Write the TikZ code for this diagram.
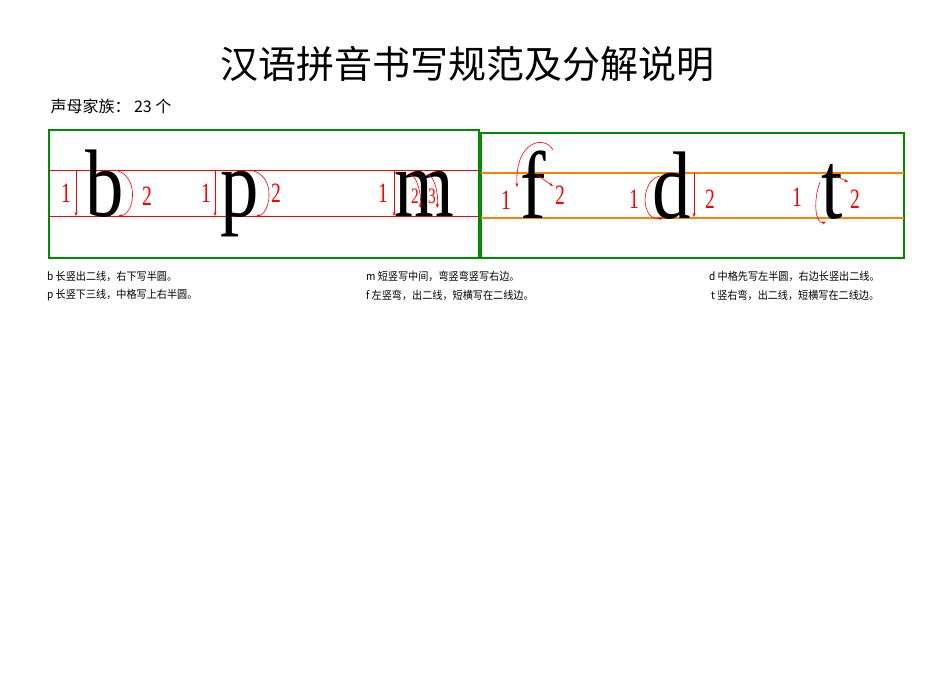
\documentclass[tikz,border=0pt]{standalone}
\usepackage{fontspec}
\setmainfont{Liberation Serif}
\newfontfamily\cjk{Noto Sans CJK SC}
\usetikzlibrary{arrows.meta}
\begin{document}
\begin{tikzpicture}[x=1pt,y=-1pt,
  letter/.style={font=\fontsize{96}{96}\selectfont,anchor=base,inner sep=0,xscale=0.8},
  num/.style={font=\fontsize{28}{28}\selectfont,text=red,inner sep=0,xscale=0.7},
  note/.style={font=\cjk\fontsize{11}{13}\selectfont,anchor=west,inner sep=0,xscale=0.92},
  box/.style={draw=green!55!black,line width=1.2pt},
  stroke/.style={red,line width=0.6pt,-{Stealth[length=4pt]}}]
\useasboundingbox (0,0) rectangle (950,672);
\node[font=\cjk\fontsize{38}{38}\selectfont] (title) at (467,64) {汉语拼音书写规范及分解说明};
\node[font=\cjk\fontsize{16}{16}\selectfont,anchor=west] (fam) at (47,106) {声母家族：\ 23 个};
\draw[box] (49,130) rectangle (479,258);
\draw[box] (481,133) rectangle (904,258);
\draw[red,line width=1pt] (49,170) -- (479,170) (49,216) -- (479,216);
\draw[orange,line width=1.5pt] (481,173) -- (904,173) (481,218) -- (904,218);
% letters
\node[letter] (b) at (105,216) {b};
\node[letter] (p) at (240,216) {p};
\node[letter] (m) at (424,216) {m};
\node[letter] (f) at (533,218) {f};
\node[letter] (d) at (672,218) {d};
\node[letter] (t) at (832,218) {t};
% b
\node[num] (b1) at (66,193) {1};
\node[num] (b2) at (147,196) {2};
\draw[stroke] (76,170) -- (76,216);
\draw[stroke] (115,170) .. controls (140,175) and (135,215) .. (118,216);
% p
\node[num] (p1) at (206,193) {1};
\node[num] (p2) at (276,193) {2};
\draw[stroke] (215,170) -- (215,216);
\draw[stroke] (250,170) .. controls (278,175) and (270,215) .. (256,216);
% m
\node[num] (m1) at (383,193) {1};
\node[num,font=\fontsize{22}{22}\selectfont] (m2) at (415,196) {2};
\node[num,font=\fontsize{22}{22}\selectfont] (m3) at (432,196) {3};
\draw[stroke] (394,170) -- (394,216);
\draw[stroke] (409,175) .. controls (416,172) and (422,195) .. (420,208);
\draw[stroke] (426,175) .. controls (434,172) and (439,195) .. (437,208);
% f
\node[num] (f1) at (506,200) {1};
\node[num] (f2) at (560,195) {2};
\draw[stroke] (553,150) .. controls (545,135) and (515,140) .. (517,187);
\draw[stroke] (537,175) -- (553,186);
% d
\node[num] (d1) at (634,199) {1};
\node[num] (d2) at (710,199) {2};
\draw[stroke] (660,176) .. controls (640,180) and (640,222) .. (663,218);
\draw[stroke] (694,173) -- (694,217);
% t
\node[num] (t1) at (797,197) {1};
\node[num] (t2) at (855,199) {2};
\draw[stroke] (820,182) .. controls (813,200) and (815,225) .. (826,222);
\draw[stroke] (836,176) -- (848,182);
% notes
\node[note] (n1) at (47,276) {b 长竖出二线，右下写半圆。};
\node[note] (n2) at (47,295) {p 长竖下三线，中格写上右半圆。};
\node[note] (n3) at (366,276) {m 短竖写中间，弯竖弯竖写右边。};
\node[note] (n4) at (366,295) {f 左竖弯，出二线，短横写在二线边。};
\node[note] (n5) at (709,276) {d 中格先写左半圆，右边长竖出二线。};
\node[note] (n6) at (711,295) {t 竖右弯，出二线，短横写在二线边。};
\end{tikzpicture}
\end{document}
